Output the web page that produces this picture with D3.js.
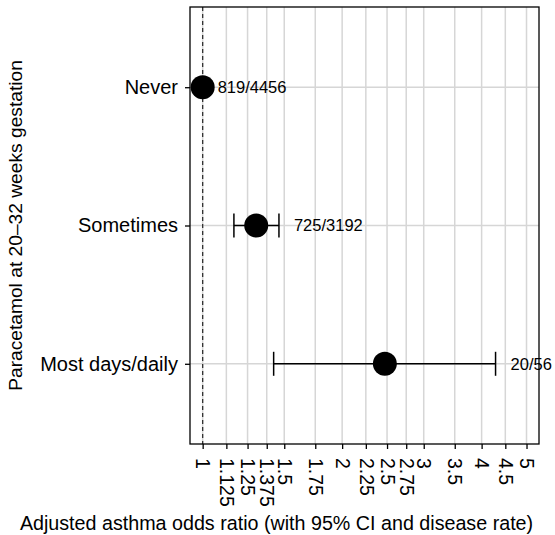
<!DOCTYPE html>
<html>
<head>
<meta charset="utf-8">
<script src="https://cdn.jsdelivr.net/npm/d3@7"></script>
<style>
  body { margin: 0; background: #fff; }
  svg { display: block; font-family: "Liberation Sans", Arial, Helvetica, sans-serif; }
</style>
</head>
<body>
<svg id="chart" width="555" height="535"></svg>
<script>
const categories = ["Never", "Sometimes", "Most days/daily"];
const oddsRatio = [1.0, 1.305, 2.473];
const ciLower = [1.0, 1.168, 1.423];
const ciUpper = [1.0, 1.461, 4.287];
const rateLabels = ["819/4456", "725/3192", "20/56"];
const xTicks = [1, 1.125, 1.25, 1.375, 1.5, 1.75, 2, 2.25, 2.5, 2.75, 3, 3.5, 4, 4.5, 5];
const xTickLabels = ["1", "1.125", "1.25", "1.375", "1.5", "1.75", "2", "2.25", "2.5", "2.75", "3", "3.5", "4", "4.5", "5"];
const xTitle = "Adjusted asthma odds ratio (with 95% CI and disease rate)";
const yTitle = "Paracetamol at 20\u201332 weeks gestation";

const rows = categories.map((c, i) => ({cat: c, or: oddsRatio[i], lo: ciLower[i], hi: ciUpper[i], lab: rateLabels[i]}));

const svg = d3.select("#chart");
const panel = {left: 190, right: 539, top: 7, bottom: 444};

const x = d3.scaleLog().domain([0.939, 5.32]).range([panel.left, panel.right]);
const y = d3.scalePoint().domain(categories).range([panel.top, panel.bottom]).padding(0.58);

const g = svg.append("g");

// grid
g.selectAll("line.vgrid").data(xTicks).enter().append("line")
  .attr("x1", d => x(d)).attr("x2", d => x(d))
  .attr("y1", panel.top).attr("y2", panel.bottom)
  .attr("stroke", "#d6d6d6").attr("stroke-width", 1.5);
g.selectAll("line.hgrid").data(categories).enter().append("line")
  .attr("x1", panel.left).attr("x2", panel.right)
  .attr("y1", d => y(d)).attr("y2", d => y(d))
  .attr("stroke", "#d6d6d6").attr("stroke-width", 1.5);

// reference line at 1
g.append("line")
  .attr("x1", x(1)).attr("x2", x(1))
  .attr("y1", panel.top).attr("y2", panel.bottom)
  .attr("stroke", "#333").attr("stroke-width", 1.3)
  .attr("stroke-dasharray", "4,3");

// error bars
const eb = g.selectAll("g.eb").data(rows.filter(r => r.hi > r.lo)).enter().append("g");
eb.append("line")
  .attr("x1", d => x(d.lo)).attr("x2", d => x(d.hi))
  .attr("y1", d => y(d.cat)).attr("y2", d => y(d.cat))
  .attr("stroke", "#000").attr("stroke-width", 1.5);
eb.append("line")
  .attr("x1", d => x(d.lo)).attr("x2", d => x(d.lo))
  .attr("y1", d => y(d.cat) - 12).attr("y2", d => y(d.cat) + 12)
  .attr("stroke", "#000").attr("stroke-width", 1.5);
eb.append("line")
  .attr("x1", d => x(d.hi)).attr("x2", d => x(d.hi))
  .attr("y1", d => y(d.cat) - 12).attr("y2", d => y(d.cat) + 12)
  .attr("stroke", "#000").attr("stroke-width", 1.5);

// points
g.selectAll("circle").data(rows).enter().append("circle")
  .attr("cx", d => x(d.or)).attr("cy", d => y(d.cat)).attr("r", 12)
  .attr("fill", "#000");

// labels
g.selectAll("text.rate").data(rows).enter().append("text")
  .attr("x", d => x(d.hi) + 15).attr("y", d => y(d.cat))
  .attr("dy", "0.35em")
  .attr("font-size", "16.5px").attr("fill", "#000")
  .text(d => d.lab);

// panel border
svg.append("rect")
  .attr("x", panel.left).attr("y", panel.top)
  .attr("width", panel.right - panel.left).attr("height", panel.bottom - panel.top)
  .attr("fill", "none").attr("stroke", "#000").attr("stroke-width", 1.3);

// x axis
const xAxis = d3.axisBottom(x).tickValues(xTicks).tickFormat((d, i) => xTickLabels[i]).tickSize(5).tickPadding(0);
const xg = svg.append("g").attr("transform", `translate(0,${panel.bottom})`).call(xAxis);
xg.select(".domain").remove();
xg.selectAll(".tick line").attr("stroke", "#000").attr("stroke-width", 1.3);
xg.selectAll(".tick text")
  .attr("transform", "rotate(90)")
  .attr("x", 14).attr("y", 0).attr("dy", "0.35em")
  .attr("text-anchor", "start")
  .attr("font-size", "19.5px").attr("fill", "#000")
  .attr("font-family", "Liberation Sans, Arial, sans-serif");

// y axis
const yAxis = d3.axisLeft(y).tickSize(5).tickPadding(7);
const yg = svg.append("g").attr("transform", `translate(${panel.left},0)`).call(yAxis);
yg.select(".domain").remove();
yg.selectAll(".tick line").attr("stroke", "#000").attr("stroke-width", 1.3);
yg.selectAll(".tick text")
  .attr("font-size", "20px").attr("fill", "#000")
  .attr("font-family", "Liberation Sans, Arial, sans-serif");

// titles
svg.append("text")
  .attr("x", (panel.left + panel.right) / 2 - 88).attr("y", 530)
  .attr("text-anchor", "middle").attr("font-size", "19.7px").attr("fill", "#000")
  .text(xTitle);
svg.append("text")
  .attr("transform", `translate(22,${(panel.top + panel.bottom) / 2}) rotate(-90)`)
  .attr("text-anchor", "middle").attr("font-size", "19.2px").attr("fill", "#000")
  .text(yTitle);
</script>
</body>
</html>
